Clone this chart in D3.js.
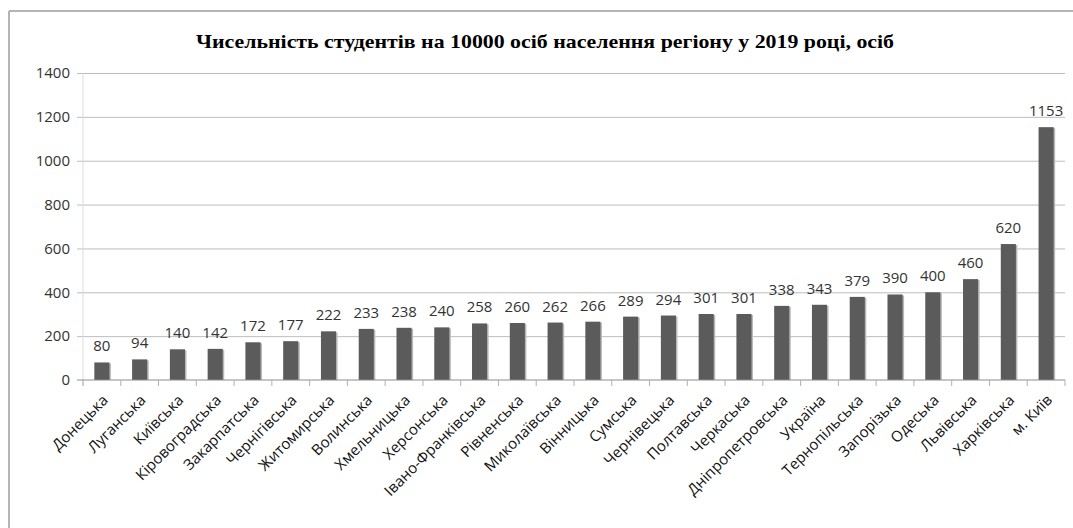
<!DOCTYPE html>
<html>
<head>
<meta charset="utf-8">
<script src="https://cdn.jsdelivr.net/npm/d3@7"></script>
<style>
  body { margin: 0; background: #fff; }
  svg { display: block; }
</style>
</head>
<body>
<svg id="chart"></svg>
<script>
// regions, sorted as in the source picture
const regions = ["Донецька","Луганська","Київська","Кіровоградська","Закарпатська","Чернігівська",
  "Житомирська","Волинська","Хмельницька","Херсонська","Івано-Франківська","Рівненська",
  "Миколаївська","Вінницька","Сумська","Чернівецька","Полтавська","Черкаська",
  "Дніпропетровська","Україна","Тернопільська","Запорізька","Одеська","Львівська",
  "Харківська","м. Київ"];
const students = [80,94,140,142,172,177,222,233,238,240,258,260,262,266,289,294,301,301,338,343,379,390,400,460,620,1153];
const yTicks = [0,200,400,600,800,1000,1200,1400];
const title = "Чисельність студентів на 10000 осіб населення регіону у 2019 році, осіб";

const W = 1073, H = 528;
const margin = {top: 73, right: 8, bottom: 148, left: 83};

const svg = d3.select('#chart')
    .attr("width", W)
    .attr("height", H);

// frame of the chart area (only top and left edges are visible)
svg.append("line")
    .attr("x1", 9).attr("x2", W).attr("y1", 11).attr("y2", 11)
    .attr("stroke", "#b4b4b4").attr("stroke-width", 2);
svg.append("line")
    .attr("x1", 9).attr("x2", 9).attr("y1", 11).attr("y2", H)
    .attr("stroke", "#b4b4b4").attr("stroke-width", 2);

svg.append("text")
    .attr("x", 545)
    .attr("y", 48)
    .attr("text-anchor", "middle")
    .attr("font-family", "'Liberation Serif', 'Times New Roman', serif")
    .attr("font-weight", "bold")
    .attr("font-size", 19)
    .attr("textLength", 698)
    .attr("lengthAdjust", "spacingAndGlyphs")
    .attr("fill", "#000")
    .text(title);

const x = d3.scaleBand()
    .domain(regions)
    .range([margin.left, W - margin.right])
    .paddingInner(0.6)
    .paddingOuter(0.3);

const y = d3.scaleLinear()
    .domain([0, 1400])
    .range([H - margin.bottom, margin.top]);

// gridlines + y labels
const yAxis = svg.append("g")
    .attr("transform", "translate(" + margin.left + ",0)")
    .call(d3.axisLeft(y).tickValues(yTicks).tickFormat(d3.format("d"))
      .tickSize(-(W - margin.right - margin.left)).tickPadding(13));
yAxis.select(".domain").remove();
yAxis.selectAll(".tick line")
    .attr("stroke", d => d === 0 ? "none" : "#bdbdbd")
    .attr("x1", -6);
yAxis.selectAll(".tick text")
    .attr("font-family", "'Open Sans', sans-serif")
    .attr("font-size", 15)
    .attr("fill", "#333");

// light vertical axis line
svg.append("line")
    .attr("x1", margin.left).attr("x2", margin.left)
    .attr("y1", y(1400)).attr("y2", y(0) + 6)
    .attr("stroke", "#dcdcdc");

// bars
const step = x.step();
const bars = svg.append("g");
bars.selectAll("rect.shade")
    .data(students)
    .enter().append("rect")
    .attr("class", "shade")
    .attr("x", (d, i) => x(regions[i]) + 1.5)
    .attr("y", d => y(d) + 1)
    .attr("width", x.bandwidth())
    .attr("height", d => y(0) - y(d) - 1)
    .attr("fill", "#b8b8b8");
bars.selectAll("rect.bar")
    .data(students)
    .enter().append("rect")
    .attr("class", "bar")
    .attr("x", (d, i) => x(regions[i]))
    .attr("y", d => y(d))
    .attr("width", x.bandwidth())
    .attr("height", d => y(0) - y(d))
    .attr("fill", "#5b5b5b");

// value labels
svg.append("g").selectAll("text")
    .data(students)
    .enter().append("text")
    .attr("x", (d, i) => x(regions[i]) + x.bandwidth() / 2)
    .attr("y", d => y(d) - 11)
    .attr("text-anchor", "middle")
    .attr("font-family", "'Open Sans', sans-serif")
    .attr("font-size", 15)
    .attr("fill", "#333")
    .text(d => d);

// x axis
const xAxisG = svg.append("g")
    .attr("transform", "translate(0," + y(0) + ")");
xAxisG.append("line")
    .attr("x1", margin.left - 6).attr("x2", W - margin.right)
    .attr("stroke", "#8c8c8c");
xAxisG.selectAll("line.tick")
    .data(d3.range(regions.length + 1))
    .enter().append("line")
    .attr("class", "tick")
    .attr("x1", i => margin.left + i * step)
    .attr("x2", i => margin.left + i * step)
    .attr("y1", 0).attr("y2", 6)
    .attr("stroke", "#b0b0b0");

xAxisG.selectAll("text")
    .data(regions)
    .enter().append("text")
    .attr("transform", d => "translate(" + (x(d) + x.bandwidth() / 2 + 7) + ",21) rotate(-45)")
    .attr("text-anchor", "end")
    .attr("font-family", "'Open Sans', sans-serif")
    .attr("font-size", 15)
    .attr("fill", "#111")
    .text(d => d);
</script>
</body>
</html>
